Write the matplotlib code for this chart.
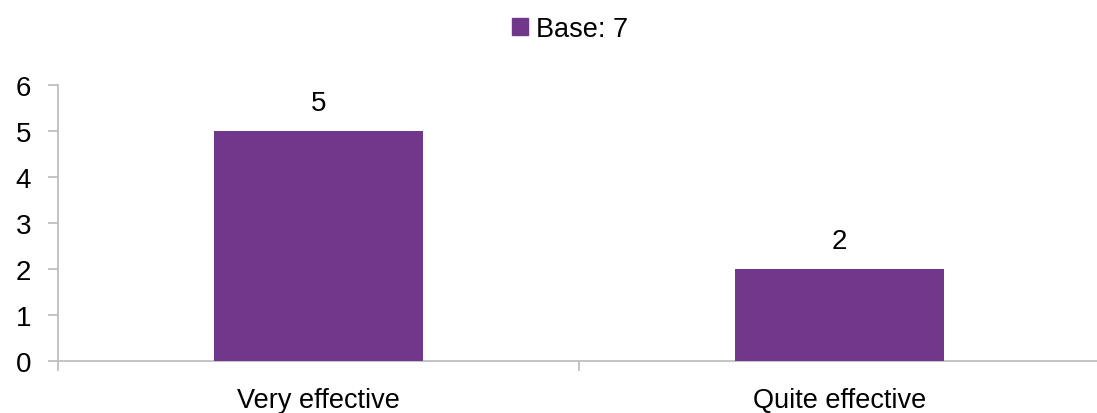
import matplotlib.pyplot as plt
from matplotlib.patches import Patch

categories = ["Very effective", "Quite effective"]
values = [5, 2]
series_label = "Base: 7"
yticks = [0, 1, 2, 3, 4, 5, 6]

bar_color = "#71378A"
axis_color = "#BFBFBF"

plt.rcParams["font.family"] = ["Liberation Sans", "DejaVu Sans"]

fig = plt.figure(figsize=(10.97, 4.14), dpi=100)
ax = fig.add_axes([58 / 1097, 1 - 362 / 414, (1100 - 58) / 1097, (362 - 86) / 414])

x = list(range(len(categories)))
bars = ax.bar(x, values, width=0.4, color=bar_color, zorder=3)
for b, v in zip(bars, values):
    ax.annotate(str(v), (b.get_x() + b.get_width() / 2, v), xytext=(0, 11),
                textcoords="offset points", ha="center", va="bottom", fontsize=20)

ax.set_xlim(-0.5, len(categories) - 0.5)
ax.set_ylim(0, 6)
ax.set_yticks(yticks)
ax.set_xticks([i - 0.5 for i in range(len(categories) + 1)], minor=False)
ax.set_xticklabels([""] * (len(categories) + 1))
ax.set_xticks(x, minor=True)
ax.set_xticklabels(categories, minor=True, fontsize=19.5)
ax.tick_params(axis="x", which="minor", length=0, pad=19)
ax.tick_params(axis="x", which="major", length=7.5, color=axis_color, width=1.3)
ax.tick_params(axis="y", length=7.5, color=axis_color, width=1.3, labelsize=20, pad=12)

for side in ["top", "right"]:
    ax.spines[side].set_visible(False)
for side in ["left", "bottom"]:
    ax.spines[side].set_color(axis_color)
    ax.spines[side].set_linewidth(1.3)

fig.legend(handles=[Patch(color=bar_color, label=series_label)], loc="center",
           bbox_to_anchor=(570 / 1097, 1 - 30 / 414), frameon=False, fontsize=19.5,
           handlelength=0.6, handleheight=0.6, handletextpad=0.3)

fig.savefig("out.png", dpi=100)
